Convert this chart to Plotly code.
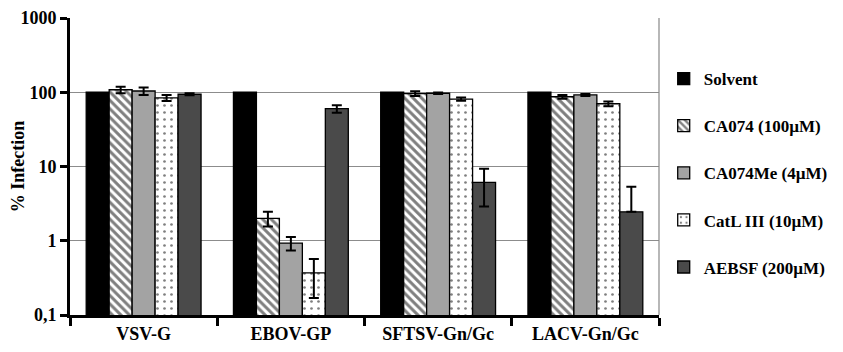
import plotly.graph_objects as go

categories = ["VSV-G", "EBOV-GP", "SFTSV-Gn/Gc", "LACV-Gn/Gc"]
series = ["Solvent", "CA074 (100µM)", "CA074Me (4µM)", "CatL III (10µM)", "AEBSF (200µM)"]
values = {
    "Solvent":         [100, 100, 100, 100],
    "CA074 (100µM)":   [108, 2.0, 96, 87],
    "CA074Me (4µM)":   [104, 0.93, 97, 92],
    "CatL III (10µM)": [84, 0.37, 81, 70],
    "AEBSF (200µM)":   [94, 60, 6.1, 2.45],
}
err_plus = {
    "Solvent":         [0, 0, 0, 0],
    "CA074 (100µM)":   [11, 0.45, 7, 5],
    "CA074Me (4µM)":   [12, 0.19, 2, 3],
    "CatL III (10µM)": [8, 0.2, 4, 5],
    "AEBSF (200µM)":   [3, 7, 3.2, 2.9],
}
err_minus = {
    "Solvent":         [0, 0, 0, 0],
    "CA074 (100µM)":   [11, 0.45, 7, 5],
    "CA074Me (4µM)":   [12, 0.19, 2, 3],
    "CatL III (10µM)": [8, 0.2, 4, 5],
    "AEBSF (200µM)":   [3, 7, 3.2, 0],
}

styles = {
    "Solvent":         dict(color="#000000", pattern=dict(shape="")),
    "CA074 (100µM)":   dict(color="#ffffff", pattern=dict(shape="\\", fgcolor="#000000", bgcolor="#ffffff", size=6, solidity=0.5, fillmode="overlay")),
    "CA074Me (4µM)":   dict(color="#a3a3a3", pattern=dict(shape="")),
    "CatL III (10µM)": dict(color="#ffffff", pattern=dict(shape=".", fgcolor="#000000", bgcolor="#ffffff", size=7, solidity=0.12, fillmode="overlay")),
    "AEBSF (200µM)":   dict(color="#4a4a4a", pattern=dict(shape="")),
}

font_family = "Liberation Serif, Times New Roman, serif"

fig = go.Figure()
for i, s in enumerate(series):
    st = styles[s]
    fig.add_trace(go.Bar(
        name=f"<b>{s}</b>",
        x=categories,
        y=values[s],
        marker=dict(color=st["color"], line=dict(color="#000000", width=1.3), pattern=st["pattern"]),
        error_y=dict(type="data", symmetric=False, array=err_plus[s], arrayminus=err_minus[s],
                     color="#000000", thickness=2, width=5, visible=(s != "Solvent")),
        legendgroup=s,
    ))

fig.update_layout(
    width=835, height=344,
    margin=dict(l=62, r=184, t=10, b=37, autoexpand=False),
    paper_bgcolor="white", plot_bgcolor="white",
    barmode="group", bargap=0.22, bargroupgap=0,
    font=dict(family=font_family, size=18, color="#000000"),
    showlegend=True,
    legend=dict(x=1.008, y=0.855, xanchor="left", yanchor="top",
                font=dict(family=font_family, size=17, color="#000000"),
                tracegroupgap=22, itemwidth=30),
    shapes=[dict(type="line", xref="paper", yref="paper", x0=1, x1=1, y0=0, y1=1,
                 line=dict(color="#888888", width=1.2))],
)
fig.update_yaxes(
    type="log", range=[-1, 3], automargin=False,
    tickvals=[0.1, 1, 10, 100, 1000], ticktext=["<b>0,1</b>", "<b>1</b>", "<b>10</b>", "<b>100</b>", "<b>1000</b>"],
    showgrid=True, gridcolor="#8c8c8c", gridwidth=1.2,
    showline=True, linecolor="#000000", linewidth=3,
    ticks="outside", ticklen=7, tickwidth=3, tickcolor="#000000",
    title=dict(text="<b>% Infection</b>", font=dict(size=18), standoff=6),
    zeroline=False,
)
fig.update_xaxes(
    type="category", automargin=False,
    tickvals=categories, ticktext=[f"<b>{c}</b>" for c in categories],
    tickson="boundaries",
    showline=True, linecolor="#000000", linewidth=3,
    ticks="outside", ticklen=8, tickwidth=3, tickcolor="#000000",
    showgrid=False,
)

fig.write_html("out.html")
